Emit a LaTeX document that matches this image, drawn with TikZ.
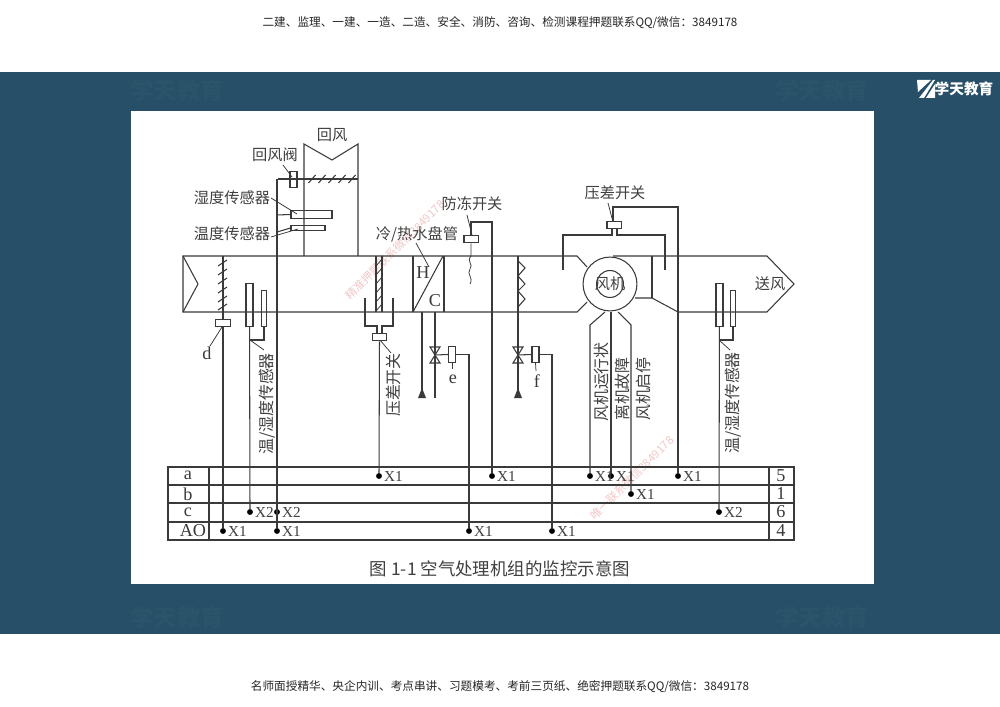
\documentclass[tikz,border=0pt]{standalone}
\usepackage{fontspec}
\setmainfont{Liberation Serif}
\newfontfamily\cjk{Noto Sans CJK SC}
\usetikzlibrary{positioning}
\definecolor{band}{HTML}{274F68}
\definecolor{bandmark}{HTML}{2B5369}
\definecolor{inkline}{HTML}{3A3A3A}
\definecolor{inktext}{HTML}{404040}
\definecolor{stamp}{HTML}{F2C8C8}
\tikzstyle{edge}=[
	-,
	draw=inkline,
	line width=0.9pt
]
\tikzstyle{thin edge}=[
	-,
	draw=inkline,
	line width=0.65pt
]
\tikzstyle{cjklabel}=[
	inner sep=0pt,
	text=inktext,
	font=\cjk\fontsize{13}{14}\selectfont
]
\tikzstyle{sidelabel}=[
	cjklabel,
	rotate=90,
	font=\cjk\fontsize{13.6}{14}\selectfont
]
\tikzstyle{letter}=[
	inner sep=0pt,
	text=inkline,
	font=\fontsize{15.5}{15.5}\selectfont
]
\tikzstyle{tag}=[
	inner sep=0pt,
	node distance=1.5pt,
	text=inktext,
	font=\fontsize{13}{13}\selectfont
]
\tikzstyle{dot}=[
	circle,
	fill=black,
	inner sep=0pt,
	minimum size=5pt
]
\tikzstyle{hbox}=[
	draw=inkline,
	line width=0.9pt,
	inner sep=0pt,
	minimum width=12pt,
	minimum height=6.5pt
]
\tikzstyle{vbox}=[
	hbox,
	minimum width=6pt,
	minimum height=13pt
]
\tikzstyle{tube}=[
	hbox,
	minimum width=6pt,
	minimum height=36pt
]
\tikzstyle{slim}=[
	hbox,
	minimum width=3.5pt,
	minimum height=30pt
]
\tikzstyle{watermark}=[
	inner sep=0pt,
	text=bandmark,
	font=\cjk\bfseries\fontsize{20}{20}\selectfont
]
\tikzstyle{stamptext}=[
	inner sep=0pt,
	rotate=45,
	text=stamp,
	font=\cjk\fontsize{9.7}{10}\selectfont
]
\begin{document}
\begin{tikzpicture}[x=0.03cm,y=-0.03cm]
\useasboundingbox (0,0) rectangle (1000,707);
\fill[white] (0,0) rectangle (1000,707);
\fill[band] (0,72) rectangle (1000,634);
\fill[white] (131,111) rectangle (874,584);

\node[watermark] (wm1) at (177,90) {学天教育};
\node[watermark] (wm2) at (822,90) {学天教育};
\node[watermark] (wm3) at (177,617) {学天教育};
\node[watermark] (wm4) at (822,617) {学天教育};
\fill[white] (917,80) -- (931,80) -- (918,92) -- cycle;
\fill[white] (919,98) -- (933,80) -- (935,80) -- (924,98) -- cycle;
\fill[white] (926,98) -- (935,84) -- (935,98) -- cycle;
\node[inner sep=0pt, text=white, font=\cjk\bfseries\fontsize{12.5}{14}\selectfont] (logo) at (964,89) {学天教育};
\node[inner sep=0pt, text=black!85, font=\cjk\fontsize{9.95}{11}\selectfont] (head) at (500,23) {二建、监理、一建、一造、二造、安全、消防、咨询、检测课程押题联系QQ/微信：3849178};
\node[inner sep=0pt, text=black!85, font=\cjk\fontsize{9.95}{11}\selectfont] (foot) at (500,687) {名师面授精华、央企内训、考点串讲、习题模考、考前三页纸、绝密押题联系QQ/微信：3849178};
\node[stamptext] (stamp1) at (395,250) {精准押题联系微信3849178};
\node[stamptext] (stamp2) at (632,478) {唯一联系微信3849178};

% duct
\draw[edge] (613,256) -- (767,256) -- (794,284) -- (767,312) -- (678,312) -- (652,298) -- (635,298);
\draw[edge] (587,267) -- (577,256) -- (183,256) -- (183,312) -- (577,312) -- (587,302);
\draw[edge] (183,256) -- (198,284) -- (183,312);
\draw[edge] (652,256) -- (652,298);
\draw[edge] (304,256) -- (304,144) -- (332,160) -- (358,144) -- (358,256);
\draw[edge] (278,179) -- (358,179);
\foreach \x in {312,322,332,342,352}
	\draw[edge] (\x-3.5,183) -- (\x+3.5,175);

% filter and coil
\draw[edge] (376,256) -- (376,312);
\draw[edge] (382,256) -- (382,312);
\foreach \y in {263,272,281,290,299,308}
	\draw[thin edge] (376,\y+3) -- (382,\y-4);
\draw[edge] (413,256) -- (413,312);
\draw[edge] (444,256) -- (444,312);
\draw[edge] (413,312) -- (443,256);
\node[letter] (coilh) at (423,273) {H};
\node[letter] (coilc) at (435,301) {C};
\foreach \y in {263,272,281,290,299,307}
	\draw[edge] (218,\y+3) -- (227,\y-3);
\draw[edge] (518,261) -- (525,268) -- (518,276) -- (525,284) -- (518,291) -- (525,299) -- (518,307);

% fan
\node[circle, draw=inkline, line width=0.9pt, minimum size=46pt, inner sep=0pt] (fanouter) at (610,284) {};
\node[circle, draw=inkline, line width=0.9pt, minimum size=23pt, inner sep=0pt] (faninner) at (610,284) {};
\node[cjklabel] (fanlabel) at (610,284) {风机};

% sensors and switches
\node[hbox] (boxd) at (223,323) {};
\node[tube] (tubea) at (249.5,305) {};
\node[slim] (sliman) at (264,308.5) {};
\node[tube] (tubeb) at (719.5,305) {};
\node[slim] (slimb) at (733,308.5) {};
\node[vbox] (boxret) at (293.5,179.5) {};
\node[hbox, minimum width=35pt] (boxhum) at (311.5,214.5) {};
\node[hbox, minimum width=29pt, minimum height=3.5pt] (boxtmp) at (308,228) {};
\node[hbox] (boxdp) at (379.5,337) {};
\node[hbox] (boxfrz) at (471,239) {};
\node[hbox, minimum height=5.5pt] (boxfan) at (614,225) {};
\node[vbox] (boxe) at (452,354.5) {};
\node[vbox] (boxf) at (535.5,354.5) {};

% labels
\node[cjklabel] (lblret) at (332,135) {回风};
\node[cjklabel] (lbldamp) at (275,155) {回风阀};
\node[cjklabel] (lblhum) at (232,198) {湿度传感器};
\node[cjklabel] (lbltmp) at (232,234) {温度传感器};
\node[cjklabel] (lblcoil) at (417,234) {冷/热水盘管};
\node[cjklabel] (lblfrz) at (472,204) {防冻开关};
\node[cjklabel] (lblfan) at (615,193) {压差开关};
\node[cjklabel] (lblsup) at (770,284) {送风};
\node[letter] (lbld) at (207,353) {d};
\node[letter] (lble) at (453,379) {e};
\node[letter] (lblf) at (537,381) {f};
\node[sidelabel] (sidea) at (267,404) {温/湿度传感器};
\node[sidelabel] (sideb) at (393,385) {压差开关};
\node[sidelabel] (sidec) at (601,382) {风机运行状};
\node[sidelabel] (sided) at (622,389) {离机故障};
\node[sidelabel] (sidee) at (643,389) {风机启停};
\node[sidelabel] (sidef) at (733,403) {温/湿度传感器};
\node[cjklabel, font=\cjk\fontsize{14.9}{16}\selectfont] (caption) at (500,569) {图 1-1 空气处理机组的监控示意图};

% table
\draw[edge] (168,467) rectangle (794,540);
\draw[edge] (168,485) -- (794,485);
\draw[edge] (168,503) -- (794,503);
\draw[edge] (168,522) -- (794,522);
\draw[edge] (209,467) -- (209,540);
\draw[edge] (769,467) -- (769,540);
\node[letter] (rowa) at (188,475) {a};
\node[letter] (rowb) at (188,494) {b};
\node[letter] (rowc) at (188,512) {c};
\node[letter] (rowao) at (193,531) {AO};
\node[letter] (suma) at (781,476) {5};
\node[letter] (sumb) at (781,494) {1};
\node[letter] (sumc) at (781,512) {6};
\node[letter] (sumao) at (781,531) {4};

% terminals
\node[dot] (a1) at (379,476) {};
\node[dot] (a2) at (492,476) {};
\node[dot] (a3) at (590,476) {};
\node[dot] (a4) at (611,476) {};
\node[dot] (a5) at (678,476) {};
\node[dot] (b1) at (631,494) {};
\node[dot] (c1) at (250,512) {};
\node[dot] (c2) at (277,512) {};
\node[dot] (c3) at (719,512) {};
\node[dot] (o1) at (223,531) {};
\node[dot] (o2) at (277,531) {};
\node[dot] (o3) at (469,531) {};
\node[dot] (o4) at (552,531) {};
\node[tag, right=of a1] (ta1) {X1};
\node[tag, right=of a2] (ta2) {X1};
\node[tag, right=of a3] (ta3) {X1};
\node[tag, right=of a4] (ta4) {X1};
\node[tag, right=of a5] (ta5) {X1};
\node[tag, right=of b1] (tb1) {X1};
\node[tag, right=of c1] (tc1) {X2};
\node[tag, right=of c2] (tc2) {X2};
\node[tag, right=of c3] (tc3) {X2};
\node[tag, right=of o1] (to1) {X1};
\node[tag, right=of o2] (to2) {X1};
\node[tag, right=of o3] (to3) {X1};
\node[tag, right=of o4] (to4) {X1};

% wires
\coordinate (dtop) at (223,256);
\coordinate (mixtop) at (277,179);
\coordinate (huma) at (277,215);
\coordinate (tmpa) at (277,232);
\coordinate (joina) at (250,340);
\coordinate (joinb) at (719,340);
\coordinate (enda) at (264,350);
\coordinate (endb) at (730,350);
\draw[edge] (dtop) to (boxd);
\draw[edge] (boxd) to (o1);
\draw[edge] (tubea) to (c1);
\draw[edge] (sliman.south) |- (joina);
\draw[thin edge] (joina) to (enda);
\draw[edge] (tubeb) to (c3);
\draw[edge] (slimb.south) |- (joinb);
\draw[thin edge] (joinb) to (endb);
\draw[edge] (mixtop) to (o2);
\draw[edge] (huma) to (boxhum.west);
\draw[edge] (tmpa) to (boxtmp.west);

% leaders
\coordinate (lda) at (283,165);
\coordinate (ldb) at (292,177);
\coordinate (ldc) at (271,198);
\coordinate (ldd) at (297,214);
\coordinate (lde) at (271,237);
\coordinate (ldf) at (298,229);
\coordinate (ldg) at (416,243);
\coordinate (ldh) at (429,267);
\coordinate (ldi) at (467,215);
\coordinate (ldj) at (472,235);
\coordinate (ldk) at (608,203);
\coordinate (ldl) at (613,222);
\coordinate (ldm) at (222,327);
\coordinate (ldn) at (210,346);
\draw[thin edge] (lda) to (ldb);
\draw[thin edge] (ldc) to (ldd);
\draw[thin edge] (lde) to (ldf);
\draw[thin edge] (ldg) to (ldh);
\draw[thin edge] (ldi) to (ldj);
\draw[thin edge] (ldk) to (ldl);
\draw[thin edge] (ldm) to (ldn);

% differential pressure pipes
\draw[edge] (365,298) -- (365,326) -- (377,326) -- (377,333);
\draw[edge] (393,298) -- (393,326) -- (382,326) -- (382,333);
\draw[edge] (boxdp) to (a1);
\coordinate (dpa) at (380,340);
\coordinate (dpb) at (391,353);
\draw[thin edge] (dpa) to (dpb);
\draw[edge] (563,270) -- (563,235) -- (612,235) -- (612,228);
\draw[edge] (665,270) -- (665,235) -- (617,235) -- (617,228);
\coordinate (fanup) at (613,207);
\coordinate (fanright) at (678,207);
\draw[edge] (boxfan.north -| fanup) -- (fanup) -- (fanright) -- (a5);

% freeze switch
\coordinate (frzup) at (471,222);
\coordinate (frzright) at (492,222);
\draw[edge] (boxfrz.north) -- (frzup) -- (frzright) -- (a2);
\draw[thin edge] (boxfrz.south) -- (471,256) .. controls (466,262) and (474,264) .. (470,269) .. controls (466,274) and (474,278) .. (470,284);

% valves
\coordinate (coilcold) at (422,312);
\coordinate (coilhot) at (435,312);
\coordinate (valvee) at (435,355);
\coordinate (valvef) at (518,355);
\coordinate (zigtop) at (518,256);
\draw[edge] (coilcold) -- (422,390);
\draw[edge] (coilhot) -- (valvee) -- (435,398);
\draw[edge] (zigtop) -- (valvef) -- (518,390);
\draw[edge] (430,347) -- (440,347) -- (430,363) -- (440,363) -- cycle;
\draw[edge] (513,347) -- (523,347) -- (513,363) -- (523,363) -- cycle;
\fill[inkline] (422,388) -- (426,398) -- (418,398) -- cycle;
\fill[inkline] (518,388) -- (522,398) -- (514,398) -- cycle;
\draw[edge] (valvee) to (boxe.west);
\draw[edge] (valvef) to (boxf.west);
\coordinate (ewire) at (469,354.5);
\coordinate (fwire) at (552,354.5);
\draw[edge] (boxe.east) -- (ewire) -- (o3);
\draw[edge] (boxf.east) -- (fwire) -- (o4);
\draw[thin edge] (boxe.south) -- (452,369);
\draw[thin edge] (boxf.south) -- (536,371);

% fan wires
\coordinate (fanl) at (605,312);
\coordinate (fanlb) at (590,325);
\coordinate (fanc) at (611,312);
\coordinate (fanr) at (618,312);
\coordinate (fanrb) at (631,325);
\draw[edge] (fanl) -- (fanlb) -- (a3);
\draw[edge] (fanc) to (a4);
\draw[edge] (fanr) -- (fanrb) -- (b1);
\end{tikzpicture}
\end{document}
